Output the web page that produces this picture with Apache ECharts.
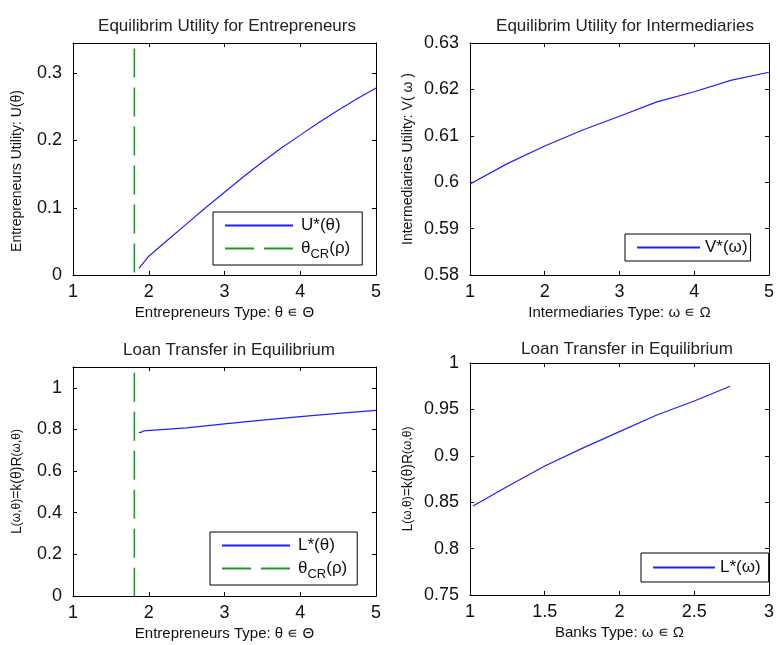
<!DOCTYPE html>
<html><head><meta charset="utf-8">
<script src="https://cdn.jsdelivr.net/npm/echarts@6/dist/echarts.min.js"></script>
<style>html,body{margin:0;padding:0;background:#fff}#c{width:777px;height:645px}</style>
</head><body><div id="c"></div>
<script>
// ---- Data ----
const uTheta  = [1.87, 1.95, 2.0, 2.25, 2.5, 2.75, 3.0, 3.25, 3.5, 3.75, 4.0, 4.25, 4.5, 4.75, 5.0];
const uValues = [0.010, 0.021, 0.028, 0.052, 0.076, 0.100, 0.123, 0.146, 0.168, 0.189, 0.208, 0.227, 0.245, 0.262, 0.278];
const vOmega  = [1, 1.5, 2, 2.5, 3, 3.5, 4, 4.5, 5];
const vValues = [0.5996, 0.6040, 0.6078, 0.6112, 0.6142, 0.6173, 0.6195, 0.6220, 0.6237];
const lTheta  = [1.87, 1.9, 1.93, 2.5, 3, 3.5, 4, 4.5, 5];
const lValues = [0.786, 0.786, 0.793, 0.808, 0.827, 0.845, 0.862, 0.877, 0.892];
const bOmega  = [1.02, 1.25, 1.5, 1.75, 2.0, 2.25, 2.5, 2.74];
const bValues = [0.846, 0.867, 0.889, 0.908, 0.926, 0.944, 0.959, 0.975];
const thetaCR = 1.81;
const crTopU = 0.337;
const crTopL = 1.072;
const titles = ['Equilibrim Utility for Entrepreneurs', 'Equilibrim Utility for Intermediaries', 'Loan Transfer in Equilibrium', 'Loan Transfer in Equilibrium'];

const FONT = 'Liberation Sans, Arial, sans-serif';
const BLUE = '#1f1fff', GREEN = '#1e9a2a';
const zip = (a, b) => a.map((v, i) => [v, b[i]]);

const grids = [
  {left: 73, top: 43, width: 303, height: 232},
  {left: 470, top: 43, width: 304, height: 232},
  {left: 73, top: 367, width: 303, height: 229},
  {left: 470, top: 363, width: 304, height: 232}
];
const LNAME = '{a|L}{s|(ω,θ)}{a|=k(θ)R}{s|(ω,θ)}';
const axCfg = [
  {x: [1, 5, 1], y: [0, 0.345, 0.1], xn: 'Entrepreneurs Type: θ ∊ Θ', yn: 'Entrepreneurs Utility: U(θ)', yg: 49, hideMax: true, pad: [0, 24, 0, 0]},
  {x: [1, 5, 1], y: [0.58, 0.63, 0.01], xn: 'Intermediaries Type: ω ∊ Ω', yn: 'Intermediaries Utility: V( ω )', yg: 55, hideMax: false, pad: 0},
  {x: [1, 5, 1], y: [0, 1.1, 0.2], xn: 'Entrepreneurs Type: θ ∊ Θ', yn: LNAME, yg: 49, hideMax: true, pad: 0},
  {x: [1, 3, 0.5], y: [0.75, 1, 0.05], xn: 'Banks Type: ω ∊ Ω', yn: LNAME, yg: 55, hideMax: false, pad: 0}
];
const line = {show: true, onZero: false, lineStyle: {color: '#000', width: 1}};
const tick = {show: true, inside: true, length: 4, lineStyle: {color: '#000', width: 1}};
const xAxis = [], yAxis = [];
axCfg.forEach((c, g) => {
  xAxis.push({type: 'value', gridIndex: g, position: 'bottom', min: c.x[0], max: c.x[1], interval: c.x[2],
    axisLine: line, axisTick: tick, splitLine: {show: false},
    axisLabel: {color: '#111', fontSize: 18, margin: 8, fontFamily: FONT},
    name: c.xn, nameLocation: 'middle', nameGap: 30,
    nameTextStyle: {color: '#111', fontSize: 15, fontFamily: FONT}});
  xAxis.push({type: 'value', gridIndex: g, position: 'top', min: c.x[0], max: c.x[1], interval: c.x[2],
    axisLine: line, axisTick: tick, splitLine: {show: false}, axisLabel: {show: false}});
  yAxis.push({type: 'value', gridIndex: g, position: 'left', min: c.y[0], max: c.y[1], interval: c.y[2],
    axisLine: line, axisTick: tick, splitLine: {show: false},
    axisLabel: {color: '#111', fontSize: 18, margin: 11, fontFamily: FONT, showMaxLabel: !c.hideMax},
    name: c.yn, nameLocation: 'middle', nameGap: c.yg,
    nameTextStyle: {color: '#111', fontSize: 14, fontFamily: FONT, padding: c.pad,
      rich: {a: {fontSize: 14, fontFamily: FONT, color: '#111'}, s: {fontSize: 12, fontFamily: FONT, color: '#111'}}}});
  yAxis.push({type: 'value', gridIndex: g, position: 'right', min: c.y[0], max: c.y[1], interval: c.y[2],
    axisLine: line, axisTick: tick, splitLine: {show: false}, axisLabel: {show: false}});
});

const centers = [[222, 13], [620, 13], [224, 337], [622, 336]];
const title = titles.map((t, i) => ({text: t, left: centers[i][0], top: centers[i][1], textAlign: 'center',
  textStyle: {fontSize: 17, fontWeight: 'normal', color: '#222', fontFamily: FONT}}));

const legendText = {fontSize: 17, color: '#111', fontFamily: FONT,
  rich: {a: {fontSize: 17, fontFamily: FONT, color: '#111'}, sub: {fontSize: 13, fontFamily: FONT, color: '#111', padding: [12, 0, 0, 0]}}};
const crFmt = n => n.startsWith('thetaCR') ? '{a|θ}{sub|CR}{a|(ρ)}' : n;
const mkLegend = (data, left, top, w, pad, tp) => ({data, left, top, orient: 'vertical', itemWidth: w, itemHeight: 12, itemGap: 6,
  borderColor: '#000', borderWidth: 1, borderRadius: 0, padding: pad, backgroundColor: '#fff',
  itemStyle: {opacity: 0}, textStyle: Object.assign({}, legendText, {padding: [0, 0, 0, tp]}),
  formatter: crFmt, selectedMode: false});
const legend = [
  mkLegend(['U*(θ)', 'thetaCR_U'], 213, 212, 68, [5, 12, 4, 11], 3),
  mkLegend(['V*(ω)'], 625, 234, 63, [5, 3, 5, 11], 0),
  mkLegend(['L*(θ)', 'thetaCR_L'], 210, 532, 68, [5, 10, 4, 11], 3),
  mkLegend(['L*(ω)'], 641, 553, 62, [6, 8, 6, 11], 0)
];

const mkLine = (name, g, data, color, type) => ({name, type: 'line', xAxisIndex: 2 * g, yAxisIndex: 2 * g, data,
  symbol: 'none', showSymbol: false, smooth: false, animation: false,
  lineStyle: {color, width: type === 'solid' ? 1.2 : 1.6, type: type === 'solid' ? 'solid' : [29, 10]},
  itemStyle: {color}});
const series = [
  mkLine('U*(θ)', 0, zip(uTheta, uValues), BLUE, 'solid'),
  mkLine('thetaCR_U', 0, [[thetaCR, crTopU], [thetaCR, 0]], GREEN, 'dash'),
  mkLine('V*(ω)', 1, zip(vOmega, vValues), BLUE, 'solid'),
  mkLine('L*(θ)', 2, zip(lTheta, lValues), BLUE, 'solid'),
  mkLine('thetaCR_L', 2, [[thetaCR, crTopL], [thetaCR, 0]], GREEN, 'dash'),
  mkLine('L*(ω)', 3, zip(bOmega, bValues), BLUE, 'solid')
];

const chart = echarts.init(document.getElementById('c'));
chart.setOption({animation: false, backgroundColor: '#fff', title, legend, grid: grids, xAxis, yAxis, series});
</script></body></html>
